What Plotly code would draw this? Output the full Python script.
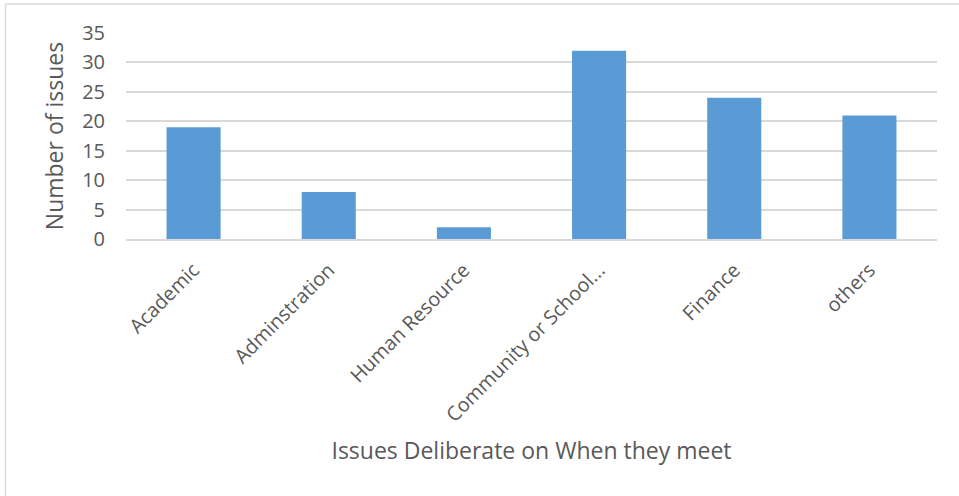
import plotly.graph_objects as go

# Issue categories and how many issues were raised in each
categories = ["Academic", "Adminstration", "Human Resource",
              "Community or School...", "Finance", "others"]
issue_counts = [19, 8, 2, 32, 24, 21]
y_ticks = [0, 5, 10, 15, 20, 25, 30, 35]

FONT = "Open Sans"
TEXT = "#595959"
GRID = "#d9d9d9"
BAR = "#5b9bd5"

W, H = 959, 496
L, R, T, B = 126, 22, 33, 256.5
pw, ph = W - L - R, H - T - B


def px_x(px):
    return (px - L) / pw


def px_y(py):
    return (H - B - py) / ph


fig = go.Figure(go.Bar(
    x=categories,
    y=issue_counts,
    marker=dict(color=BAR, line=dict(width=0)),
))

fig.update_layout(
    width=W, height=H,
    margin=dict(l=L, r=R, t=T, b=B),
    paper_bgcolor="white",
    plot_bgcolor="white",
    bargap=0.6,
    showlegend=False,
    font=dict(family=FONT, color=TEXT),
    xaxis=dict(
        tickangle=-45,
        tickfont=dict(size=19.8, color=TEXT),
        showgrid=False,
        showline=True, linecolor=GRID, linewidth=1.5,
        ticks="",
        ticklabelstandoff=10,
        title=dict(text="Issues Deliberate on When they meet",
                   font=dict(size=23, color=TEXT), standoff=17),
    ),
    yaxis=dict(
        range=[0, 35],
        tickvals=y_ticks,
        tickfont=dict(size=20, color=TEXT),
        showgrid=True, gridcolor=GRID, gridwidth=1.5,
        zeroline=False,
        showline=False,
        ticks="",
        ticklabelstandoff=20,
        title=dict(text="Number of issues",
                   font=dict(size=23, color=TEXT), standoff=12),
    ),
)

# Chart frame: left and top edges
fig.add_shape(type="line", xref="paper", yref="paper",
              x0=px_x(5.5), x1=px_x(5.5), y0=px_y(4), y1=px_y(H + 2),
              line=dict(color=GRID, width=1.5))
fig.add_shape(type="line", xref="paper", yref="paper",
              x0=px_x(5.5), x1=px_x(W + 2), y0=px_y(4), y1=px_y(4),
              line=dict(color=GRID, width=1.5))

fig.write_html("out.html")
